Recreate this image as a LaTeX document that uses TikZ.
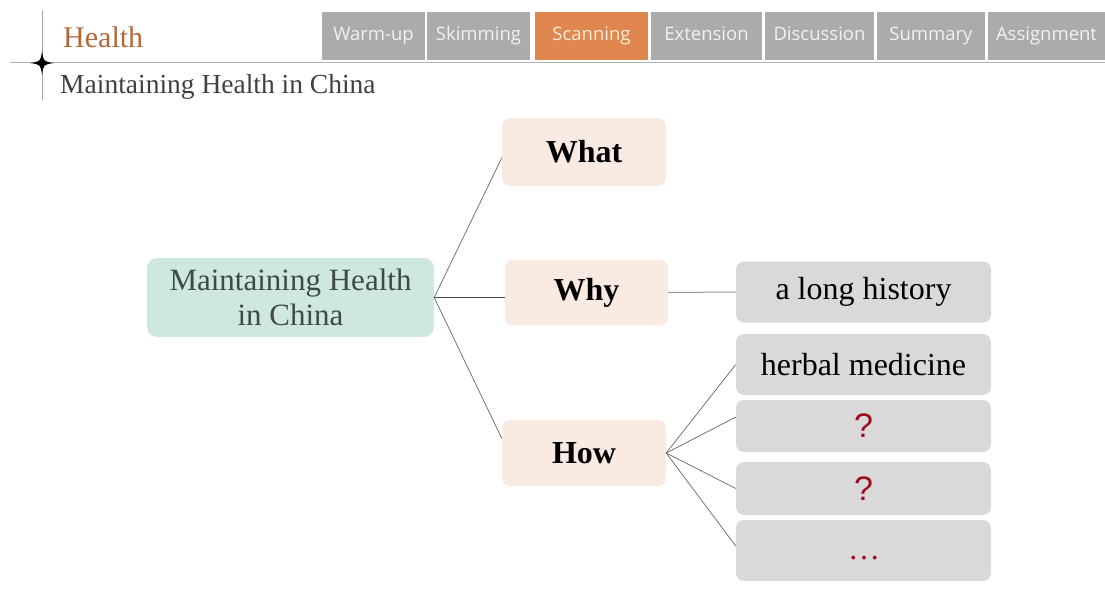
\documentclass[tikz,border=0pt]{standalone}
\usepackage{fontspec}
\setmainfont{Liberation Serif}
\newfontfamily\tabfont{Open Sans}
\newfontfamily\qfont{Liberation Sans}
\definecolor{tabgray}{RGB}{171,171,171}
\definecolor{taborange}{RGB}{224,135,80}
\definecolor{rootfill}{RGB}{206,232,224}
\definecolor{peach}{RGB}{249,234,226}
\definecolor{boxgray}{RGB}{217,217,217}
\definecolor{healthcol}{RGB}{178,104,58}
\definecolor{qred}{RGB}{160,10,30}
\definecolor{roottext}{RGB}{60,75,70}
\begin{document}
\begin{tikzpicture}[x=1pt,y=-1pt,
  tab/.style={fill=tabgray, text=white!95!black, inner sep=0pt, minimum height=48pt, text height=14pt, text depth=4pt, font=\tabfont\fontsize{18.5}{21}\selectfont},
  peachbox/.style={fill=peach, rounded corners=8pt, inner sep=0pt, minimum width=164pt, minimum height=67pt, font=\bfseries\fontsize{32}{36}\selectfont},
  graybox/.style={fill=boxgray, rounded corners=8pt, inner sep=0pt, minimum width=255pt, font=\fontsize{32}{36}\selectfont},
  qmark/.style={text=qred, font=\qfont\fontsize{34}{38}\selectfont},
  conn/.style={draw=black!60, line width=0.7pt},
  connthick/.style={draw=black!70, line width=1.8pt},
  connlight/.style={draw=black!40, line width=1pt}]
\useasboundingbox (0,0) rectangle (1105,610);
% header
\draw[black!30, line width=1pt] (10,63) -- (1105,63);
\draw[black!35, line width=0.8pt] (42,10) -- (42,100);
\fill[black] (42,51) .. controls (43.5,61.5) .. (54,63) .. controls (43.5,64.5) .. (42,75) .. controls (40.5,64.5) .. (30,63) .. controls (40.5,61.5) .. cycle;
\node[anchor=base west, inner sep=0pt, text=healthcol, font=\fontsize{30}{34}\selectfont] (health) at (63,48) {Health};
\node[anchor=base west, inner sep=0pt, text=black!75, font=\fontsize{27.5}{32}\selectfont] (subtitle) at (60,93) {Maintaining Health in China};
% tabs
\node[tab, minimum width=103pt] (t1) at (373.5,36) {Warm-up};
\node[tab, minimum width=103pt] (t2) at (478.5,36) {Skimming};
\node[tab, fill=taborange, text=orange!15!white, minimum width=113pt] (t3) at (591.5,36) {Scanning};
\node[tab, minimum width=111pt] (t4) at (706.5,36) {Extension};
\node[tab, minimum width=109pt] (t5) at (819.5,36) {Discussion};
\node[tab, minimum width=108pt] (t6) at (931,36) {Summary};
\node[tab, minimum width=117pt] (t7) at (1046.5,36) {Assignment};
% main nodes
\node[fill=rootfill, rounded corners=10pt, inner sep=0pt, minimum width=287pt, minimum height=79pt, align=center, text=roottext, font=\fontsize{31}{35}\selectfont] (root) at (290.5,297.5) {Maintaining Health\\in China};
\node[peachbox, minimum height=68pt] (what) at (584,152) {What};
\node[peachbox, minimum width=163pt, minimum height=66pt] (why) at (586.5,292.5) {Why};
\node[peachbox, minimum height=66pt] (how) at (584,453) {How};
\node[graybox, minimum height=61pt] (hist) at (863.5,292) {a long history};
\node[graybox, minimum height=61pt] (herb) at (863.5,364.5) {herbal medicine};
\node[graybox, minimum height=52pt] (q1) at (863.5,426) {};
\node[qmark] (q1t) at (q1.center) {?};
\node[graybox, minimum height=53pt] (q2) at (863.5,488.5) {};
\node[qmark] (q2t) at (q2.center) {?};
\node[graybox, minimum height=61pt] (more) at (863.5,550.5) {};
\node[text=qred, font=\fontsize{32}{36}\selectfont] (moret) at (864,558) {\ldots};
% connectors
\draw[conn] (root.east) -- (what.184);
\draw[connthick] (root.east) -- (root.east -| why.west);
\draw[conn] (root.east) -- (how.170);
\draw[connlight] (why.east) -- (hist.west);
\draw[conn] (how.east) -- (herb.west);
\draw[conn] (how.east) -- (q1.176);
\draw[conn] (how.east) -- (q2.west);
\draw[conn] (how.east) -- (more.178);
\end{tikzpicture}
\end{document}
